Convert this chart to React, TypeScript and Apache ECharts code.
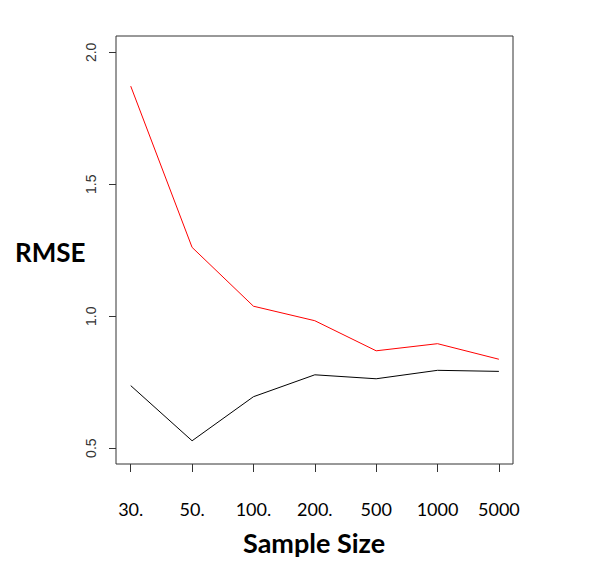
import React, { useEffect, useRef } from "react";
import * as echarts from "echarts";

const sampleSizes = ["30.", "50.", "100.", "200.", "500", "1000", "5000"];
const redRmse = [1.872, 1.261, 1.038, 0.983, 0.869, 0.896, 0.837];
const blackRmse = [0.737, 0.528, 0.695, 0.778, 0.763, 0.795, 0.791];
const yTicks = [0.5, 1.0, 1.5, 2.0];

const App = () => {
  const chartRef = useRef<HTMLDivElement>(null);

  useEffect(() => {
    document.body.style.margin = "0";
    if (!chartRef.current) return;

    const chart = echarts.init(chartRef.current, null, { renderer: "svg" });
    const idx = sampleSizes.map((_, i) => i);

    const option: echarts.EChartsOption = {
      animation: false,
      backgroundColor: "#ffffff",
      grid: {
        left: 116,
        right: 83,
        top: 36,
        bottom: 124,
        show: true,
        borderColor: "#333",
        borderWidth: 1,
        backgroundColor: "transparent",
      },
      xAxis: {
        type: "value",
        min: -0.24,
        max: 6.23,
        axisLine: { show: false, onZero: false },
        splitLine: { show: false },
        axisTick: {
          show: true,
          customValues: idx,
          length: 8,
          lineStyle: { color: "#333" },
        },
        axisLabel: {
          customValues: idx,
          formatter: (v: number) => sampleSizes[Math.round(v)] ?? "",
          margin: 36,
          fontFamily: "Lato",
          fontSize: 18,
          color: "#000",
        },
      },
      yAxis: {
        type: "value",
        min: 0.44,
        max: 2.062,
        axisLine: { show: false, onZero: false },
        splitLine: { show: false },
        axisTick: {
          show: true,
          customValues: yTicks,
          length: 7,
          lineStyle: { color: "#333" },
        },
        axisLabel: {
          customValues: yTicks,
          formatter: (v: number) => v.toFixed(1),
          rotate: 90,
          margin: 18,
          fontFamily: "Liberation Sans",
          fontSize: 14,
          color: "#333",
        },
      },
      graphic: [
        {
          type: "text",
          left: 15,
          top: 239,
          style: {
            text: "RMSE",
            font: "bold 26px Lato",
            fill: "#000",
          },
        },
        {
          type: "text",
          left: 243,
          top: 529,
          style: {
            text: "Sample Size",
            font: "bold 27px Lato",
            fill: "#000",
          },
        },
      ],
      series: [
        {
          type: "line",
          data: redRmse.map((v, i) => [i, v]),
          symbol: "none",
          lineStyle: { color: "#ff0000", width: 1 },
        },
        {
          type: "line",
          data: blackRmse.map((v, i) => [i, v]),
          symbol: "none",
          lineStyle: { color: "#000000", width: 1 },
        },
      ],
    };

    chart.setOption(option);

    return () => {
      chart.dispose();
    };
  }, []);

  return <div ref={chartRef} style={{ width: "596px", height: "588px" }} />;
};

export default App;
